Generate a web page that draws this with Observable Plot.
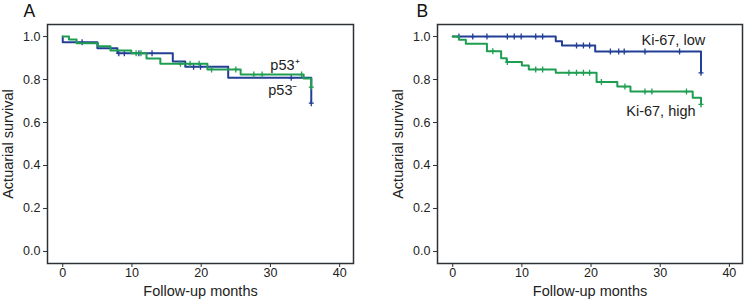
<!DOCTYPE html>
<html><head><meta charset="utf-8">
<script src="https://cdn.jsdelivr.net/npm/d3@7"></script>
<script src="https://cdn.jsdelivr.net/npm/@observablehq/plot@0.6"></script>
<style>
body{margin:0;background:#fff}
#c{display:flex;width:744px;height:300px}
#c svg{display:block}
</style>
</head><body><div id="c"></div>
<script>
// ---- Data: panel A (p53) ----
const p53NegTimes = [0, 0, 5.0, 7.9, 15.9, 17.7, 23.9, 35.9];
const p53NegSurv  = [1.0, 0.973, 0.946, 0.922, 0.884, 0.860, 0.808, 0.690];
const p53NegCensored = [2.8, 8.1, 8.9, 11.0, 12.9, 18.9, 19.9, 33.0, 35.9];

const p53PosTimes = [0, 0.9, 2.0, 5.1, 6.9, 9.9, 12.1, 14.1, 20.9, 25.7, 34.8, 35.9];
const p53PosSurv  = [1.0, 0.986, 0.969, 0.955, 0.935, 0.922, 0.898, 0.873, 0.847, 0.823, 0.805, 0.765];
const p53PosCensored = [10.6, 11.3, 17.0, 18.4, 19.7, 21.5, 25.0, 27.6, 28.8, 34.5, 35.9];

// ---- Data: panel B (Ki-67) ----
const kiLowTimes = [0, 14.9, 15.8, 20.6, 35.9];
const kiLowSurv  = [1.0, 0.978, 0.958, 0.930, 0.831];
const kiLowCensored = [0.9, 2.9, 4.95, 7.9, 8.9, 9.9, 12.0, 13.0, 17.9, 18.9, 19.8, 22.8, 24.0, 24.8, 27.8, 32.8, 35.9];

const kiHighTimes = [0, 0.9, 1.9, 4.95, 7.0, 7.8, 10.0, 11.0, 14.9, 20.8, 23.8, 25.7, 34.7, 35.9];
const kiHighSurv  = [1.0, 0.985, 0.966, 0.932, 0.899, 0.881, 0.865, 0.847, 0.831, 0.788, 0.767, 0.744, 0.715, 0.684];
const kiHighCensored = [5.8, 7.9, 12.0, 13.0, 16.8, 17.9, 18.9, 19.8, 21.5, 24.9, 27.8, 28.8, 33.8, 35.9];

// ---- Axis ticks ----
const xTicks = [0, 10, 20, 30, 40];
const yTicks = [0, 0.2, 0.4, 0.6, 0.8, 1.0];

const BLUE = "#233f95", GREEN = "#1f9e52", INK = "#2b3134";
const FONT = "'Liberation Sans', Arial, Helvetica, sans-serif";

function steps(T, S) { return T.map((t, i) => ({t, s: S[i]})); }
function survAt(T, S, t) { let v = S[0]; for (let i = 0; i < T.length; i++) if (T[i] <= t) v = S[i]; return v; }
function cens(T, S, C) { return C.map(t => ({t, s: survAt(T, S, t)})); }
const plusTick = { draw(ctx) { ctx.moveTo(0, -3); ctx.lineTo(0, 3); ctx.moveTo(-2.5, 0); ctx.lineTo(2.5, 0); } };

function panel({letter, marginLeft, marginRight, xDomain, letterDx, series, labels}) {
  const marks = [
    Plot.frame({stroke: INK, strokeWidth: 1.5}),
    Plot.axisX({ticks: xTicks, tickSize: 4, tickPadding: 1, label: null, stroke: INK, fontSize: 12.5}),
    Plot.axisY({ticks: yTicks, tickFormat: d3.format(".1f"), tickSize: 4, tickPadding: 3, label: null, stroke: INK, fontSize: 12.5}),
    Plot.text(["Actuarial survival"], {text: d => d, frameAnchor: "left", rotate: -90, dx: -39, fontSize: 14.5, textAnchor: "middle", lineAnchor: "middle", fill: "#222"}),
    Plot.text(["Follow-up months"], {text: d => d, frameAnchor: "bottom", dy: 27.5, fontSize: 14.5, textAnchor: "middle", lineAnchor: "middle", fill: "#222"}),
    Plot.text([letter], {text: d => d, frameAnchor: "top-left", dx: letterDx, dy: -13, fontSize: 17.5, textAnchor: "start", lineAnchor: "middle", fill: "#111"})
  ];
  for (const s of series) {
    marks.push(Plot.line(steps(s.T, s.S), {x: "t", y: "s", curve: "step-after", stroke: s.color, strokeWidth: 2}));
    marks.push(Plot.dot(cens(s.T, s.S, s.C), {x: "t", y: "s", symbol: plusTick, stroke: s.color, strokeWidth: 1.3, fill: "none"}));
  }
  for (const l of labels) {
    marks.push(Plot.text([l.text], {text: d => d, x: () => l.x, y: () => l.y, fontSize: 14.5, textAnchor: "middle", lineAnchor: "middle", fill: "#222"}));
  }
  return Plot.plot({
    width: 372, height: 300,
    marginLeft, marginRight, marginTop: 24, marginBottom: 37,
    x: {domain: xDomain},
    y: {domain: [-0.056, 1.056]},
    style: {fontFamily: FONT, fontSize: "12.5px", color: "#222", background: "white", overflow: "visible"},
    marks
  });
}

const c = document.getElementById("c");
c.appendChild(panel({
  letter: "A", marginLeft: 47, marginRight: 19, xDomain: [-2.2, 42.0], letterDx: -24,
  series: [
    {T: p53NegTimes, S: p53NegSurv, C: p53NegCensored, color: BLUE},
    {T: p53PosTimes, S: p53PosSurv, C: p53PosCensored, color: GREEN}
  ],
  labels: [
    {text: "p53\u207A", x: 32.1, y: 0.865},
    {text: "p53\u207B", x: 31.8, y: 0.749}
  ]
}));
c.appendChild(panel({
  letter: "B", marginLeft: 65, marginRight: 2, xDomain: [-2.2, 41.9], letterDx: -21,
  series: [
    {T: kiLowTimes, S: kiLowSurv, C: kiLowCensored, color: BLUE},
    {T: kiHighTimes, S: kiHighSurv, C: kiHighCensored, color: GREEN}
  ],
  labels: [
    {text: "Ki-67, low", x: 31.9, y: 0.981},
    {text: "Ki-67, high", x: 30.1, y: 0.653}
  ]
}));
</script>
</body></html>
